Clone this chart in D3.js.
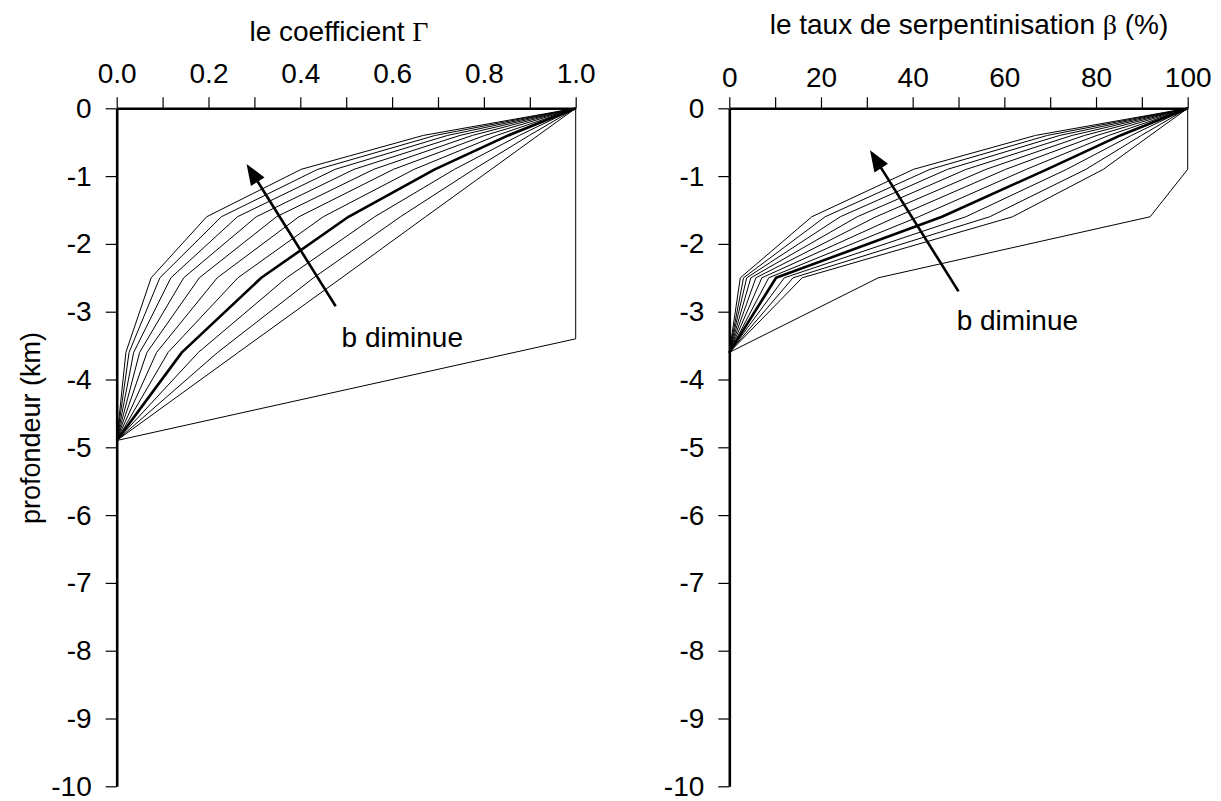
<!DOCTYPE html>
<html><head><meta charset="utf-8">
<script src="https://cdn.jsdelivr.net/npm/d3@7"></script>
<style>
body{margin:0;background:#fff}
svg{display:block;background:#fff}
text{font-family:"Liberation Sans",Arial,Helvetica,sans-serif;fill:#000}
</style>
</head><body>
<svg id="chart" width="1221" height="801"></svg>
<script>
// ---------- data ----------
const depthTicks = [0,-1,-2,-3,-4,-5,-6,-7,-8,-9,-10];
const gammaTicks = [0,0.1,0.2,0.3,0.4,0.5,0.6,0.7,0.8,0.9,1.0];
const betaTicks  = [0,10,20,30,40,50,60,70,80,90,100];

// depth nodes of the Γ curves (km)
const gammaDepths = [0,-0.4,-0.9,-1.6,-2.5,-3.6,-4.9];
// b values of the family (the thick one is b = 0.3)
const bValues = [1.0,0.9,0.8,0.7,0.6,0.5,0.4,0.3,0.2,0.1,0.0];
const thickB = 0.3;
const gammaCurves = [
  [1,0.668,0.402,0.196,0.075,0.020,0],
  [1,0.694,0.438,0.228,0.094,0.027,0],
  [1,0.721,0.476,0.263,0.118,0.037,0],
  [1,0.748,0.517,0.304,0.146,0.050,0],
  [1,0.775,0.560,0.348,0.180,0.066,0],
  [1,0.802,0.603,0.397,0.219,0.087,0],
  [1,0.828,0.648,0.450,0.264,0.112,0],
  [1,0.853,0.693,0.505,0.315,0.142,0],
  [1,0.877,0.736,0.562,0.370,0.178,0],
  [1,0.899,0.778,0.618,0.429,0.220,0],
  [1,0.918,0.816,0.673,0.490,0.265,0]
];
const gammaLastDepths = [0,-3.4,-4.9];
const gammaLastValues = [1,1,0];

// depth nodes of the β curves (km)
const betaDepths = [0,-0.4,-0.9,-1.6,-2.5,-3.6];
const betaCurves = [
  [100,66.8,40.2,18.0,2.4,0],
  [100,69.4,43.8,20.9,3.1,0],
  [100,72.1,47.6,24.2,3.8,0],
  [100,74.8,51.7,27.9,4.7,0],
  [100,77.5,56.0,32.0,5.8,0],
  [100,80.2,60.3,36.5,7.1,0],
  [100,82.8,64.8,41.3,8.6,0],
  [100,85.3,69.3,46.4,10.2,0],
  [100,87.7,73.6,51.6,12.0,0],
  [100,89.9,77.8,56.8,13.9,0],
  [100,91.8,81.6,61.8,15.9,0]
];
const betaLastDepths = [0,-0.9,-1.6,-2.5,-3.6];
const betaLastValues = [100,100,91.8,32.5,0];

// annotation arrows (data units: [x, depth])
const gammaArrow = {from:[0.477,-2.92], to:[0.283,-0.82], label:"b diminue", at:[0.49,-3.52]};
const betaArrow  = {from:[50.0,-2.70], to:[30.7,-0.62], label:"b diminue", at:[49.6,-3.27]};

// ---------- drawing ----------
const svg = d3.select('#chart');
const FS = 28;

function drawPanel(o){
  const x = d3.scaleLinear().domain(o.xDomain).range([o.x0,o.x1]);
  const y = d3.scaleLinear().domain([0,-10]).range([108.3,786.3]);
  const g = svg.append('g');
  const line = d3.line().x(d=>x(d[0])).y(d=>y(d[1]));

  // curves
  o.curves.forEach((vals,i)=>{
    const pts = vals.map((v,j)=>[v,o.depths[j]]);
    const thick = bValues[i]===thickB;
    g.append('path').attr('d',line(pts)).attr('fill','none')
      .attr('stroke','#000').attr('stroke-width',thick?2.6:1)
      .attr('stroke-linejoin','round');
  });
  const last = o.lastValues.map((v,j)=>[v,o.lastDepths[j]]);
  g.append('path').attr('d',line(last)).attr('fill','none')
    .attr('stroke','#000').attr('stroke-width',1);

  // axes
  const ax = d3.axisTop(x).tickValues(o.xTicks).tickSize(11).tickSizeOuter(0)
    .tickPadding(o.xPad).tickFormat(o.xFormat);
  const gx = g.append('g').attr('transform',`translate(0,${y(0)})`).call(ax);
  const ay = d3.axisLeft(y).tickValues(depthTicks).tickSize(11).tickSizeOuter(0)
    .tickPadding(14).tickFormat(d=>String(d));
  const gy = g.append('g').attr('transform',`translate(${x(o.xDomain[0])},0)`).call(ay);
  [gx,gy].forEach(a=>{
    a.select('.domain').attr('stroke','#000').attr('stroke-width',2.6);
    a.selectAll('.tick line').attr('stroke','#000').attr('stroke-width',1.2);
    a.selectAll('.tick text').attr('font-size',FS)
      .attr('font-family','"Liberation Sans",Arial,sans-serif').attr('fill','#000');
  });
  gx.selectAll('.tick text').attr('dy','0em');

  // title
  const t = g.append('text').attr('x',o.titleX).attr('y',o.titleY)
    .attr('text-anchor','middle').attr('font-size',FS);
  t.append('tspan').text(o.title);
  t.append('tspan').attr('font-family','"Liberation Serif","Times New Roman",serif').text(o.titleSym);
  if(o.titleEnd) t.append('tspan').text(o.titleEnd);

  // arrow
  const a = o.arrow;
  const S=[x(a.from[0]),y(a.from[1])], T=[x(a.to[0]),y(a.to[1])];
  const dx=T[0]-S[0], dy=T[1]-S[1], len=Math.hypot(dx,dy);
  const ux=dx/len, uy=dy/len, L=21, W=8;
  const B=[T[0]-ux*L,T[1]-uy*L];
  g.append('line').attr('x1',S[0]).attr('y1',S[1]).attr('x2',B[0]+ux*2).attr('y2',B[1]+uy*2)
    .attr('stroke','#000').attr('stroke-width',2.6);
  g.append('polygon').attr('points',[
    T, [B[0]-uy*W,B[1]+ux*W], [B[0]+uy*W,B[1]-ux*W]
  ].map(p=>p.join(',')).join(' ')).attr('fill','#000');
  g.append('text').attr('x',x(a.at[0])).attr('y',y(a.at[1])).attr('font-size',FS).text(a.label);
}

drawPanel({
  xDomain:[0,1], x0:116.7, x1:575.7,
  curves:gammaCurves, depths:gammaDepths,
  lastValues:gammaLastValues, lastDepths:gammaLastDepths,
  xTicks:gammaTicks, xPad:14,
  xFormat:d=>(Math.round(d*10)%2===0 ? d.toFixed(1) : ""),
  title:"le coefficient ", titleSym:"Γ", titleX:339, titleY:41,
  arrow:gammaArrow
});
drawPanel({
  xDomain:[0,100], x0:729.3, x1:1187.7,
  curves:betaCurves, depths:betaDepths,
  lastValues:betaLastValues, lastDepths:betaLastDepths,
  xTicks:betaTicks, xPad:10,
  xFormat:d=>(d%20===0 ? String(d) : ""),
  title:"le taux de serpentinisation ", titleSym:"β", titleEnd:" (%)", titleX:969, titleY:34,
  arrow:betaArrow
});

// y-axis label
svg.append('text').attr('transform','translate(40,428) rotate(-90)')
  .attr('text-anchor','middle').attr('font-size',27).text('profondeur (km)');
</script>
</body></html>
